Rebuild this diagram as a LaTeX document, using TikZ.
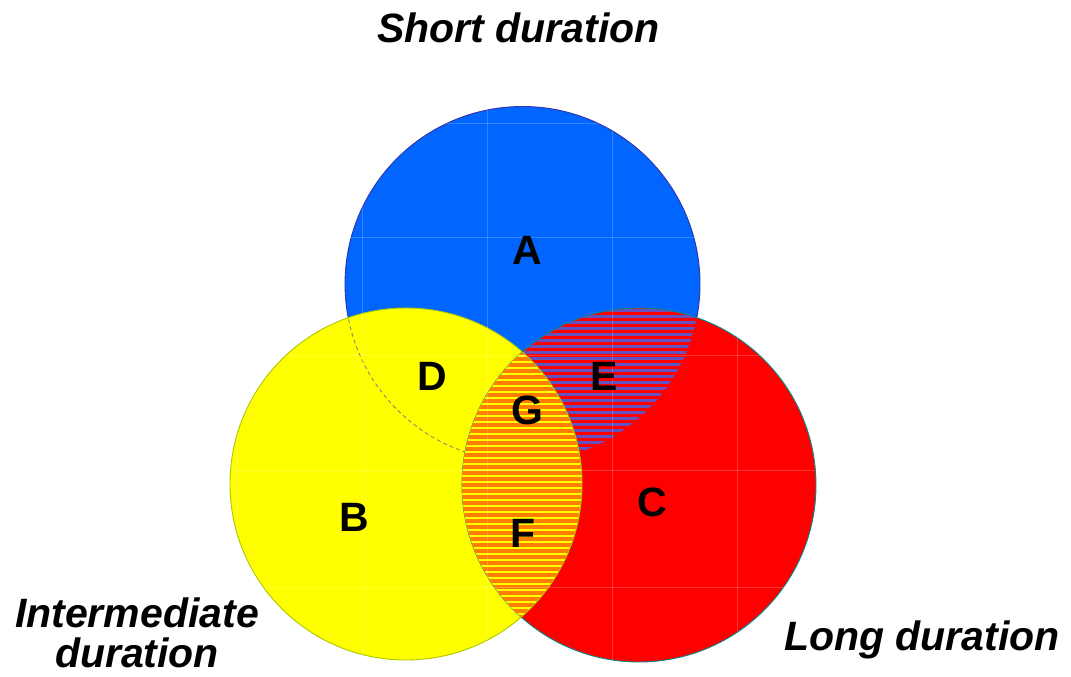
\documentclass[tikz,border=0pt]{standalone}
\usepackage{fontspec}
\setmainfont{Liberation Sans}
\usetikzlibrary{patterns.meta}
\definecolor{shortblue}{RGB}{0,102,255}
\definecolor{shortedge}{RGB}{50,50,170}
\definecolor{midyellow}{RGB}{255,255,0}
\definecolor{midedge}{RGB}{170,200,0}
\definecolor{longred}{RGB}{255,0,0}
\definecolor{longedge}{RGB}{0,140,140}
\definecolor{stripeblue}{RGB}{100,80,190}
\definecolor{stripeorange}{RGB}{255,125,0}
\begin{document}
\begin{tikzpicture}[x=1pt,y=-1pt,
  setlabel/.style={font=\fontsize{41}{41}\selectfont\bfseries, anchor=base, inner sep=0pt},
  titlelabel/.style={font=\fontsize{41}{40}\selectfont\bfseries\itshape, inner sep=0pt, align=center},
  gridline/.style={white, opacity=0.2, line width=1pt}]
\useasboundingbox (0,0) rectangle (1071,677);

% circle centres
\coordinate (cs) at (522.5,284);
\coordinate (ci) at (406,484);
\coordinate (cl) at (639,485);
\def\rs{177.5}
\def\ri{176}
\def\rl{177}

% short duration (blue)
\fill[shortblue] (cs) circle[radius=\rs];
\draw[shortedge, line width=0.9pt] (cs) circle[radius=\rs];

% intermediate duration (yellow)
\fill[midyellow] (ci) circle[radius=\ri];
\draw[midedge, line width=0.9pt] (ci) circle[radius=\ri];
\begin{scope}
  \clip (ci) circle[radius=\ri-0.5];
  \draw[gray, dash pattern=on 4pt off 3pt, line width=0.8pt] (cs) circle[radius=\rs];
\end{scope}

% long duration (red)
\fill[longred] (cl) circle[radius=\rl];
\draw[longedge, line width=0.9pt] (cl) circle[radius=\rl];

% short and long overlap: blue stripes on red
\begin{scope}
  \clip (cl) circle[radius=\rl-0.5];
  \fill[pattern={Lines[angle=0,distance=6pt,line width=3pt]}, pattern color=stripeblue]
    (cs) circle[radius=\rs];
\end{scope}

% intermediate and long overlap: orange stripes on yellow
\begin{scope}
  \clip (cl) circle[radius=\rl];
  \fill[midyellow] (ci) circle[radius=\ri];
  \fill[pattern={Lines[angle=0,distance=6pt,line width=3.2pt]}, pattern color=stripeorange]
    (ci) circle[radius=\ri];
  \draw[midedge, line width=0.9pt] (ci) circle[radius=\ri];
\end{scope}

% faint guide grid over the filled areas
\begin{scope}
  \clip (cs) circle[radius=\rs] (ci) circle[radius=\ri] (cl) circle[radius=\rl];
  \foreach \gx in {237,362,487,612,737} \draw[gridline] (\gx,100) -- (\gx,665);
  \foreach \gy in {123,237,355,470,587} \draw[gridline] (225,\gy) -- (820,\gy);
\end{scope}

% region letters
\node[setlabel] (A) at (527,264) {A};
\node[setlabel] (B) at (354,531) {B};
\node[setlabel] (C) at (652,516) {C};
\node[setlabel] (D) at (432,390) {D};
\node[setlabel] (E) at (604,390) {E};
\node[setlabel] (F) at (523,547) {F};
\node[setlabel] (G) at (527,424) {G};

% set titles
\node[titlelabel, anchor=base] (tshort) at (518.5,43) {Short duration};
\node[titlelabel, anchor=center] (tmid) at (137,633) {Intermediate\\duration};
\node[titlelabel, anchor=base] (tlong) at (922,650) {Long duration};
\end{tikzpicture}
\end{document}
